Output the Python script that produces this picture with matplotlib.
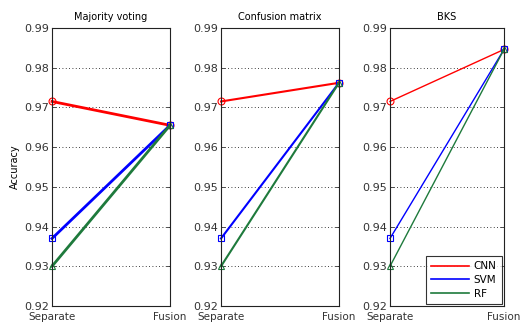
import matplotlib.pyplot as plt

titles = ["Majority voting", "Confusion matrix", "BKS"]
x_labels = ["Separate", "Fusion"]
cnn = [[0.9715, 0.9655], [0.9715, 0.9762], [0.9715, 0.9846]]
svm = [[0.9370, 0.9655], [0.9370, 0.9762], [0.9370, 0.9846]]
rf = [[0.9300, 0.9655], [0.9300, 0.9762], [0.9300, 0.9846]]
yticks = [0.92, 0.93, 0.94, 0.95, 0.96, 0.97, 0.98, 0.99]

fig = plt.figure(figsize=(5.22, 3.24), dpi=100)
lefts = [52, 221, 390]
widths = [118, 118, 114]
W, H = 522, 324
top, bottom = 28, 306

green = "#1e7a3c"
lws = [2.0, 1.5, 1.0]

for i in range(3):
    ax = fig.add_axes([lefts[i] / W, 1 - bottom / H, widths[i] / W, (bottom - top) / H])
    xs = [1, 2]
    ax.plot(xs, cnn[i], color="red", lw=lws[i], marker="o", mfc="none", ms=5, mew=0.8, label="CNN")
    ax.plot(xs, svm[i], color="blue", lw=lws[i], marker="s", mfc="none", ms=5, mew=0.8, label="SVM")
    ax.plot(xs, rf[i], color=green, lw=lws[i], marker="^", mfc="none", ms=5, mew=0.8, label="RF")
    ax.set_xlim(1, 2)
    ax.set_ylim(0.92, 0.99)
    ax.set_xticks(xs)
    ax.set_xticklabels(x_labels, fontsize=7.5)
    ax.set_yticks(yticks)
    ax.set_yticklabels([f"{t:.2f}" for t in yticks], fontsize=8)
    ax.yaxis.grid(True, linestyle=(0, (1, 3)), color="black", lw=0.6)
    ax.tick_params(direction="in", top=True, right=True, length=3, width=0.6, pad=2, colors="#333333")
    ax.tick_params(axis="x", pad=4)
    for s in ax.spines.values():
        s.set_linewidth(0.8)
        s.set_color("#222222")
    ax.set_title(titles[i], fontsize=7, pad=6)
    for ln in ax.lines:
        ln.set_clip_on(False)
    if i == 0:
        ax.set_ylabel("Accuracy", fontsize=7, labelpad=3)
    if i == 2:
        leg = ax.legend(loc="lower right", fontsize=7.5, frameon=True, fancybox=False,
                        edgecolor="black", handlelength=3.6, borderaxespad=0.2,
                        handletextpad=0.5, labelspacing=0.35, borderpad=0.5)
        for h in leg.legend_handles:
            h.set_marker("")
            h.set_linewidth(1.2)
        leg.get_frame().set_linewidth(0.8)

fig.savefig("out.png", dpi=100)
